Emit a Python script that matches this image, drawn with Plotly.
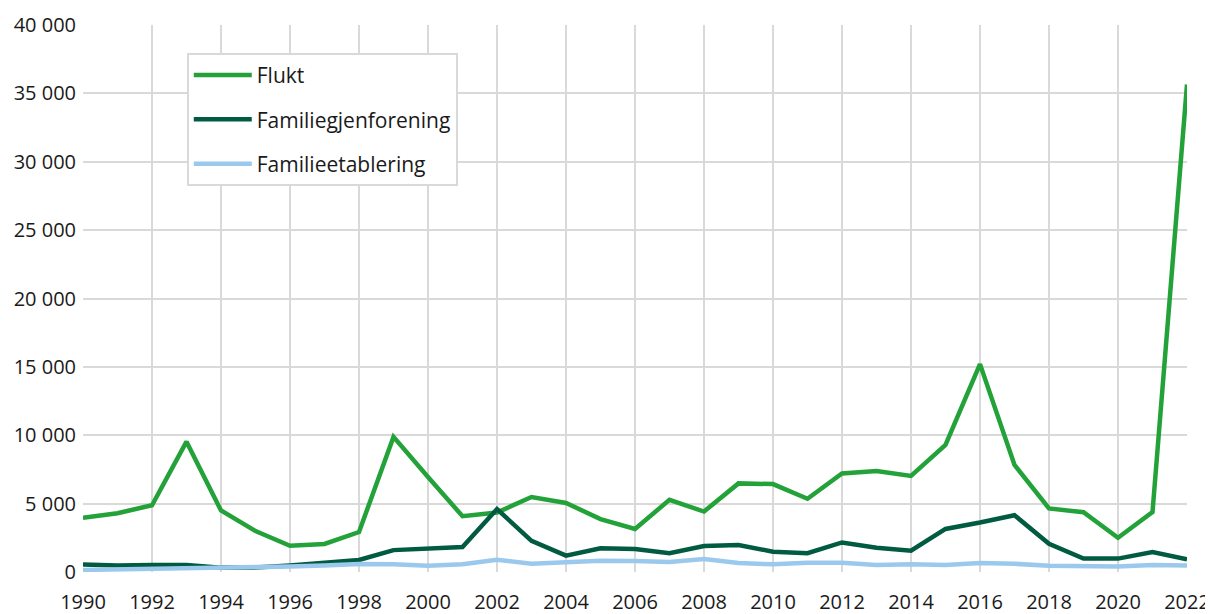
import plotly.graph_objects as go

years = list(range(1990, 2023))

flukt = [3960, 4300, 4880, 9530, 4500, 2990, 1920, 2050, 2920, 9880, 6950, 4080,
         4350, 5480, 5050, 3870, 3150, 5280, 4420, 6480, 6430, 5360, 7200, 7380,
         7030, 9300, 15200, 7830, 4650, 4370, 2500, 4380, 35650]

familiegjenforening = [550, 470, 510, 510, 320, 320, 480, 680, 880, 1600, 1720, 1820,
                       4600, 2280, 1200, 1740, 1680, 1380, 1900, 1980, 1480, 1380, 2160, 1780,
                       1560, 3150, 3620, 4150, 2060, 980, 980, 1460, 930]

familieetablering = [150, 180, 250, 280, 310, 340, 400, 480, 580, 560, 450, 560,
                     900, 600, 720, 820, 800, 740, 950, 660, 560, 680, 680, 520,
                     560, 520, 650, 600, 460, 440, 400, 520, 470]

names = ["Flukt", "Familiegjenforening", "Familieetablering"]
colors = ["#24a23a", "#005b41", "#9bc9ee"]

fig = go.Figure()
for name, vals, col in zip(names, [flukt, familiegjenforening, familieetablering], colors):
    fig.add_trace(go.Scatter(x=years, y=vals, name=name, mode="lines",
                             line=dict(color=col, width=4.5),
                             legendgroup=name))

# page body has an 8px margin, so the figure is a bit smaller and offset
fig.update_layout(
    width=1205, height=606,
    margin=dict(l=75, r=26, t=17, b=42),
    paper_bgcolor="white", plot_bgcolor="white",
    font=dict(family="Open Sans", size=20, color="#1a1a1a"),
    separators=", ",
    showlegend=True,
    legend=dict(x=0.094, y=0.949, xanchor="left", yanchor="top",
                bgcolor="white", bordercolor="#d9d9d9", borderwidth=2,
                tracegroupgap=14, itemwidth=58, font=dict(size=21)),
    xaxis=dict(range=[1990, 2022], tickmode="linear", tick0=1990, dtick=2,
               showgrid=True, gridcolor="#d9d9d9", gridwidth=2,
               zeroline=False, showline=False, ticks="", automargin=False,
               ticklabelstandoff=16),
    yaxis=dict(range=[0, 40000], tickmode="linear", tick0=0, dtick=5000,
               tickformat=",d", showgrid=True, gridcolor="#d9d9d9", gridwidth=2,
               zeroline=False, showline=False, ticks="", automargin=False,
               ticklabelstandoff=6),
)

fig.write_html("out.html")
